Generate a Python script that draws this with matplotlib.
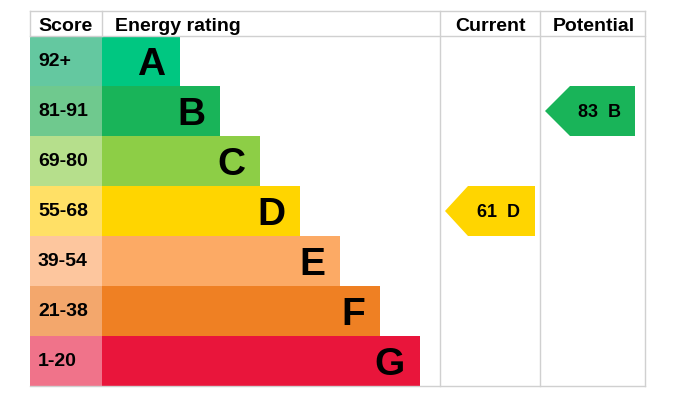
import matplotlib.pyplot as plt
from matplotlib.patches import Polygon

# energy bands, top to bottom
bands = ["A", "B", "C", "D", "E", "F", "G"]
score_ranges = ["92+", "81-91", "69-80", "55-68", "39-54", "21-38", "1-20"]
bar_lengths = [78, 118, 158, 198, 238, 278, 318]
bar_colors = ["#00c781", "#19b459", "#8dce46", "#ffd500", "#fcaa65", "#ef8023", "#e9153b"]
score_colors = ["#64c8a0", "#6fc98e", "#b6df8c", "#ffe066", "#fdc69e", "#f3a76c", "#f0738a"]

current_score, current_band = 61, "D"
potential_score, potential_band = 83, "B"

fig = plt.figure(figsize=(6.93, 4.19), dpi=100)
ax = fig.add_axes([0, 0, 1, 1])
ax.set_xlim(0, 693)
ax.set_ylim(7.16, -1.22)
ax.axis("off")

rows = list(range(len(bands)))
font = "Liberation Sans"

# score column and rating bars
ax.barh(rows, 72, left=30, height=1.0, color=score_colors)
ax.barh(rows, bar_lengths, left=102, height=1.0, color=bar_colors)

for i in rows:
    ax.text(38, i + 0.09, score_ranges[i], ha="left", va="baseline",
            fontsize=14, fontweight="bold", family=font)
    ax.text(102 + bar_lengths[i] - 15, i + 0.28, bands[i], ha="right", va="baseline",
            fontsize=28, fontweight="bold", family=font)

# table lines
grid = "#d0d0d0"
top, head, bottom = -1.0, -0.5, len(bands) - 0.5
ax.plot([30, 645], [top, top], color=grid, lw=1)
ax.plot([30, 645], [head, head], color=grid, lw=1)
ax.plot([30, 645], [bottom, bottom], color=grid, lw=1)
ax.plot([30, 30], [top, head], color=grid, lw=1)
ax.plot([102, 102], [top, head], color=grid, lw=1)
for x in [440, 540, 645]:
    ax.plot([x, x], [top, bottom], color=grid, lw=1)

# header texts
hy = -0.6
ax.text(38, hy, "Score", ha="left", va="baseline", fontsize=14, fontweight="bold", family=font)
ax.text(115, hy, "Energy rating", ha="left", va="baseline", fontsize=14, fontweight="bold", family=font)
ax.text(490, hy, "Current", ha="center", va="baseline", fontsize=14, fontweight="bold", family=font)
ax.text(594, hy, "Potential", ha="center", va="baseline", fontsize=14, fontweight="bold", family=font)


def arrow(x_tip, x_body, x_right, score, band):
    i = bands.index(band)
    pts = [(x_tip, i), (x_body, i - 0.5), (x_right, i - 0.5),
           (x_right, i + 0.5), (x_body, i + 0.5)]
    ax.add_patch(Polygon(pts, closed=True, color=bar_colors[i], lw=0))
    ax.text((x_body + x_right) / 2 - 3, i + 0.12, "%d  %s" % (score, band), ha="center",
            va="baseline", fontsize=13, fontweight="bold", family=font)


arrow(445, 468, 535, current_score, current_band)
arrow(545, 570, 635, potential_score, potential_band)

fig.savefig("out.png", dpi=100)
